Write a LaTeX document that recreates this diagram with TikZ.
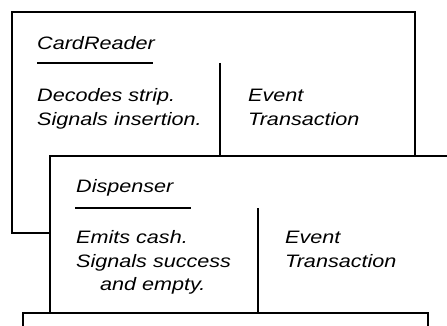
\documentclass[tikz,border=0pt]{standalone}
\usepackage{fontspec}
\setmainfont{Liberation Sans}[FakeStretch=1.2]
\begin{document}
\begin{tikzpicture}[x=1pt,y=-1pt,
  card/.style={draw=black,fill=white,line width=1.3pt},
  rule/.style={draw=black,line width=1.3pt},
  txt/.style={anchor=base west,inner sep=0pt,font=\fontsize{18}{21}\selectfont\itshape}]
\useasboundingbox (0,0) rectangle (447,326);
\clip (0,0) rectangle (447,326);
% Card 1
\draw[card] (12,12) rectangle (415,233);
\node[txt] (cr) at (37,50) {CardReader};
\coordinate (cru1) at (37,63);
\coordinate (cru2) at (153,63);
\draw[rule] (cru1) -- (cru2);
\coordinate (crd1) at (220,63);
\coordinate (crd2) at (220,200);
\draw[rule] (crd1) -- (crd2);
\node[txt] (cr1) at (37,102) {Decodes strip.};
\node[txt] (cr2) at (37,126) {Signals insertion.};
\node[txt] (ce1) at (248,102) {Event};
\node[txt] (ce2) at (248,126) {Transaction};
% Card 2
\draw[card] (50,156) rectangle (470,360);
\node[txt] (dp) at (76,192) {Dispenser};
\coordinate (dpu1) at (75,208);
\coordinate (dpu2) at (191,208);
\draw[rule] (dpu1) -- (dpu2);
\coordinate (dpd1) at (258,208);
\coordinate (dpd2) at (258,330);
\draw[rule] (dpd1) -- (dpd2);
\node[txt] (dp1) at (76,243) {Emits cash.};
\node[txt] (dp2) at (76,267) {Signals success};
\node[txt] (dp3) at (100,290) {and empty.};
\node[txt] (de1) at (285,243) {Event};
\node[txt] (de2) at (285,267) {Transaction};
% Card 3
\draw[card] (23,313) rectangle (428,360);
\end{tikzpicture}
\end{document}
